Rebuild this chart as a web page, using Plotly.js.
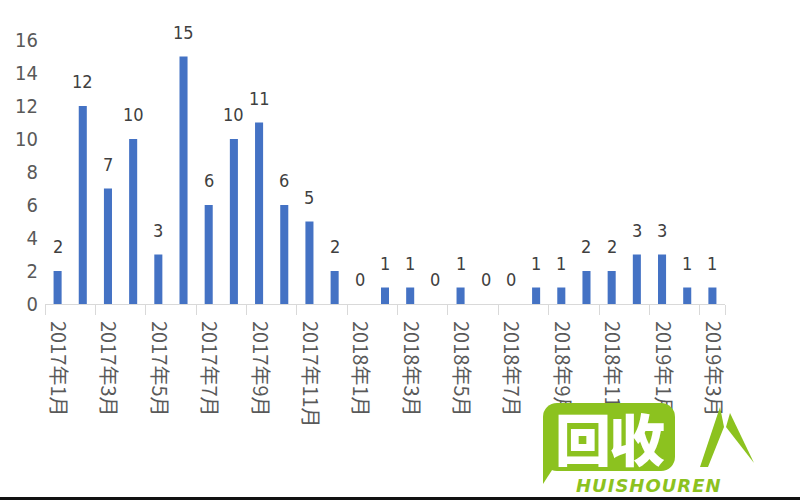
<!DOCTYPE html>
<html>
<head>
<meta charset="utf-8">
<script src="https://cdn.plot.ly/plotly-3.0.1.min.js"></script>
<style>
  html, body { margin: 0; padding: 0; background: #fff; }
  #wrap { position: relative; width: 800px; height: 500px; overflow: hidden; }
  #chart { width: 800px; height: 500px; }
  #bottombar { position: absolute; left: 0; top: 497px; width: 800px; height: 3px; background: #111; }
  #logo { position: absolute; left: 543px; top: 403px; width: 132px; height: 68px; background: #8cc21f;
          border-radius: 14px; color: #fff; font-family: "Noto Sans CJK SC", sans-serif; font-weight: 900;
          font-size: 56px; line-height: 68px; text-align: center; letter-spacing: -2px; }
  #logotail { position: absolute; left: 543px; top: 450px; width: 0; height: 0;
              border-left: 22px solid #8cc21f; border-bottom: 34px solid transparent; }
  #logotext { position: absolute; left: 576px; top: 475px; color: #8cc21f; font-family: "DejaVu Sans", sans-serif;
              font-weight: bold; font-style: italic; font-size: 18px; letter-spacing: 1px; }
</style>
</head>
<body>
<div id="wrap">
  <div id="chart"></div>
  <div id="logotail"></div>
  <div id="logo">回收</div>
  <div id="logotext">HUISHOUREN</div>
  <svg style="position:absolute;left:690px;top:405px" width="70" height="70">
    <path d="M30 2 L10 62 L18 62 L34 22 Z" fill="#8cc21f"/>
    <path d="M40 8 L64 58 L50 40 L36 22 Z" fill="#8cc21f"/>
  </svg>
  <div id="bottombar"></div>
</div>
<script>
const months = [
  "2017年1月","2017年2月","2017年3月","2017年4月","2017年5月","2017年6月",
  "2017年7月","2017年8月","2017年9月","2017年10月","2017年11月","2017年12月",
  "2018年1月","2018年2月","2018年3月","2018年4月","2018年5月","2018年6月",
  "2018年7月","2018年8月","2018年9月","2018年10月","2018年11月","2018年12月",
  "2019年1月","2019年2月","2019年3月"
];
const counts = [2,12,7,10,3,15,6,10,11,6,5,2,0,1,1,0,1,0,0,1,1,2,2,3,3,1,1];
const yTicks = [0,2,4,6,8,10,12,14,16];

const shownLabels = months.filter((m, i) => i % 2 === 0);

const trace = {
  type: "bar",
  x: months,
  y: counts,
  marker: { color: "#4472c4" },
  cliponaxis: false,
  hoverinfo: "x+y"
};

const labelFont = { family: "Liberation Sans Narrow, DejaVu Sans Condensed, sans-serif", size: 18, color: "#404040" };
const annotations = months.map((m, i) => ({
  x: m, y: counts[i], xref: "x", yref: "y",
  text: String(counts[i]), showarrow: false,
  yanchor: "bottom", yshift: 12,
  font: labelFont
}));

const layout = {
  width: 800, height: 500,
  margin: { l: 45, r: 75, t: 40, b: 196 },
  paper_bgcolor: "#fff", plot_bgcolor: "#fff",
  showlegend: false,
  bargap: 0.68,
  annotations: annotations,
  xaxis: {
    type: "category",
    tickmode: "array",
    tickvals: shownLabels,
    ticktext: shownLabels,
    tickson: "boundaries",
    ticks: "outside", ticklen: 10, tickcolor: "#d9d9d9", tickwidth: 1,
    tickangle: 90,
    ticklabelstandoff: 12,
    tickfont: { family: "Noto Sans CJK SC, sans-serif", size: 20, color: "#595959" },
    showline: true, linecolor: "#d9d9d9", linewidth: 1,
    showgrid: false, zeroline: false,
    range: [-0.5, 26.5]
  },
  yaxis: {
    range: [0, 16],
    tickmode: "array", tickvals: yTicks, ticktext: yTicks.map(String),
    showgrid: false, zeroline: false, showline: false,
    ticks: "",
    ticklabelstandoff: 6,
    tickfont: { family: "Liberation Sans Narrow, DejaVu Sans Condensed, sans-serif", size: 20, color: "#595959" }
  }
};

Plotly.newPlot("chart", [trace], layout, { displayModeBar: false, staticPlot: true });
</script>
</body>
</html>
